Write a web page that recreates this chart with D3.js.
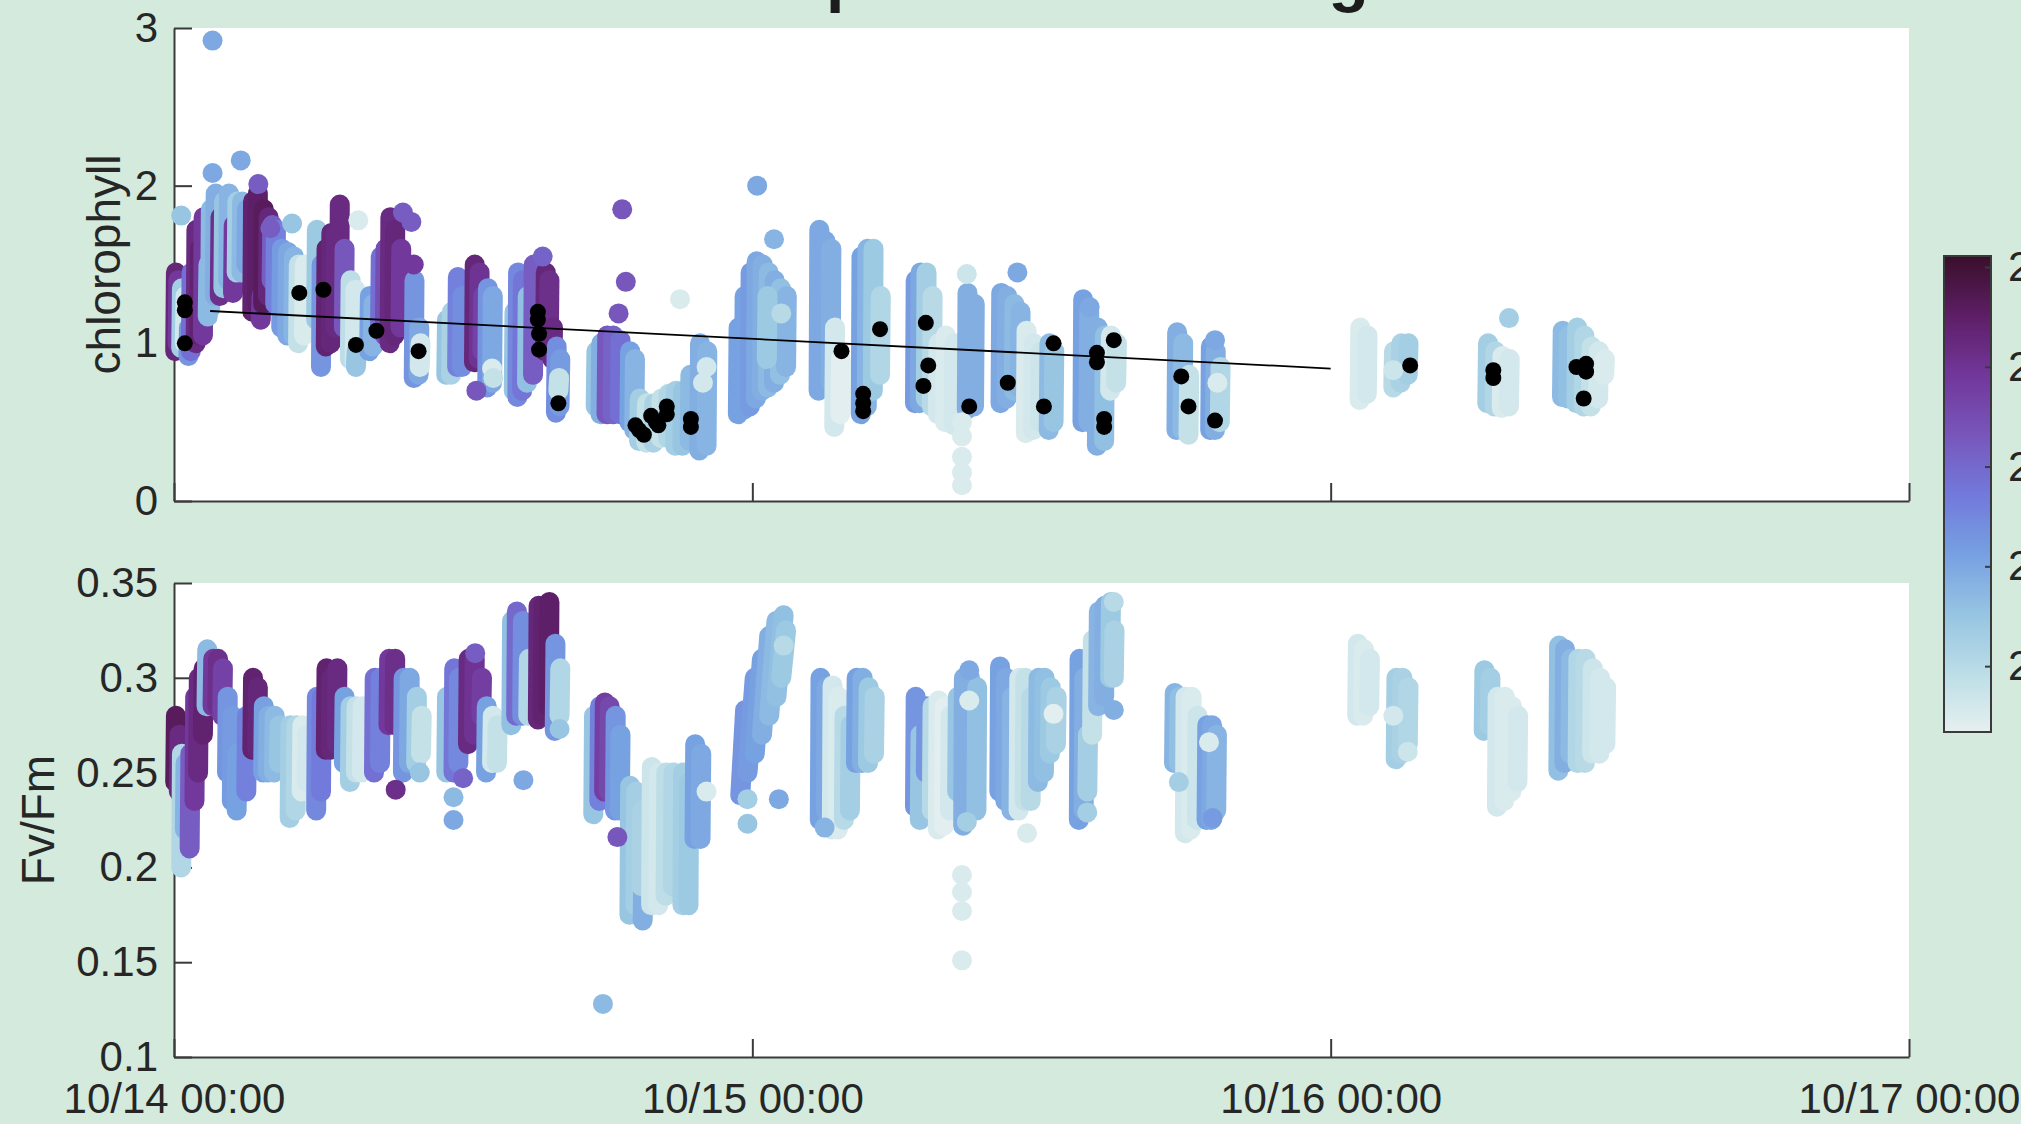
<!DOCTYPE html>
<html><head><meta charset="utf-8">
<script src="https://cdn.jsdelivr.net/npm/d3@7"></script>
<style>
body{margin:0;background:#d3eadd;}
svg{display:block;}
text{font-family:"Liberation Sans",Arial,Helvetica,sans-serif;}
</style>
</head><body>
<svg id="chart" width="2021" height="1124"></svg>
<script>
// ---------------- DATA ----------------
const startDate = new Date(2021, 9, 14, 0, 0);
const xTickHours = [0, 24, 48, 72];
const chlTicks = [0, 1, 2, 3];
const fvTicks = [0.1, 0.15, 0.2, 0.25, 0.3, 0.35];
const cbarTicks = [21, 22, 23, 24, 25];
const cbarRange = [20.34, 25.11];
const colorStops = ["#e6f0f0", "#bbdde6", "#95c4e2", "#76a0e2", "#7279db", "#7856bb", "#72379a", "#5d1e66", "#3a0f2a"];
const titleText = "Temperature coloring";
const chlLabel = "chlorophyll";
const fvLabel = "Fv/Fm";

// profile stacks: [hourStart, valueStart, hourEnd, valueEnd, temperature]
const chlCasts = [
 [0.05,0.95,0.08,1.45,24.3],[0.15,1.0,0.18,1.4,23.9],[0.3,0.97,0.33,1.35,21.3],[0.45,1.0,0.48,1.3,20.6],
 [0.6,0.92,0.62,1.1,22.3],[0.7,0.95,0.73,1.45,22.9],[0.9,1.0,0.93,1.72,24.2],[1.05,1.05,1.08,1.6,24.4],
 [1.2,1.05,1.23,1.8,23.9],[1.4,1.17,1.43,1.5,21.7],[1.5,1.22,1.53,1.85,21.7],[1.7,1.3,1.73,1.95,21.9],
 [1.9,1.3,1.93,1.8,24.1],[2.05,1.35,2.08,1.9,21.5],[2.25,1.4,2.28,1.95,21.8],[2.45,1.32,2.48,1.75,23.9],
 [2.6,1.45,2.63,1.9,21.3],[2.8,1.45,2.83,1.9,21.7],[3.0,1.5,3.03,1.85,22.0],
 [3.25,1.2,3.28,1.9,24.4],[3.45,1.25,3.48,1.95,24.5],[3.6,1.15,3.63,1.3,23.9],[3.7,1.25,3.73,1.85,24.6],
 [3.9,1.3,3.93,1.8,24.3],[4.05,1.4,4.08,1.75,23.2],[4.2,1.25,4.23,1.72,22.6],[4.45,1.1,4.48,1.6,22.2],
 [4.7,1.05,4.73,1.58,22.0],[4.95,1.05,4.98,1.55,21.8],[5.15,1.0,5.18,1.5,20.8],[5.4,1.05,5.43,1.5,20.5],
 [5.9,1.15,5.93,1.72,21.4],[6.1,0.85,6.13,1.5,22.3],[6.3,0.98,6.33,1.6,24.4],[6.5,1.0,6.53,1.7,24.3],
 [6.7,1.1,6.73,1.7,24.2],[6.85,1.2,6.88,1.88,24.2],[7.05,1.1,7.08,1.6,23.3],[7.3,0.9,7.33,1.4,20.9],
 [7.5,0.87,7.53,1.34,20.6],[7.55,0.85,7.58,0.95,21.5],[8.1,0.95,8.13,1.3,22.1],[8.25,0.98,8.28,1.25,21.8],
 [8.55,1.08,8.58,1.55,22.9],[8.75,1.05,8.78,1.6,23.5],[8.95,1.0,8.98,1.8,24.2],[9.15,1.05,9.18,1.72,24.3],[9.4,1.1,9.43,1.6,23.9],
 [9.95,0.78,9.98,1.4,22.3],[10.15,0.8,10.18,1.1,22.0],[10.2,0.85,10.23,1.0,20.6],
 [11.3,0.8,11.33,1.15,21.5],[11.5,0.8,11.53,1.2,21.2],[11.75,0.85,11.78,1.42,22.6],[11.95,0.85,11.98,1.3,22.4],
 [12.45,0.88,12.48,1.5,24.3],[12.65,0.9,12.68,1.45,24.0],[12.8,0.95,12.83,1.3,23.7],[13.0,0.72,13.03,1.35,22.3],[13.2,0.75,13.23,1.3,22.0],
 [14.1,0.7,14.13,1.2,21.5],[14.25,0.66,14.28,1.45,22.5],[14.45,0.7,14.48,1.4,22.8],[14.65,0.75,14.68,1.3,21.6],[14.9,0.8,14.93,1.5,23.2],
 [15.4,0.95,15.43,1.45,24.3],[15.55,0.95,15.58,1.4,24.1],[15.7,0.9,15.73,1.1,24.2],[15.85,0.56,15.88,0.98,22.4],
 [16.0,0.6,16.03,0.9,22.2],[15.95,0.7,15.98,0.78,20.8],
 [17.5,0.6,17.53,0.95,21.5],[17.7,0.55,17.73,1.0,21.9],[17.95,0.55,17.98,1.05,23.3],[18.2,0.55,18.23,1.05,23.1],
 [18.5,0.55,18.53,1.02,22.9],[18.9,0.5,18.93,0.95,22.1],[19.1,0.45,19.13,0.9,21.8],
 [19.3,0.38,19.33,0.65,21.3],[19.6,0.37,19.63,0.62,20.8],[19.9,0.37,19.93,0.62,21.2],[20.2,0.4,20.23,0.65,20.8],
 [20.5,0.4,20.53,0.68,21.1],[20.8,0.35,20.83,0.7,21.3],[21.1,0.35,21.13,0.7,21.5],[21.4,0.38,21.43,0.8,21.7],
 [21.8,0.32,21.83,1.0,21.9],[22.1,0.35,22.13,0.95,21.8],
 [23.4,0.55,23.43,1.1,22.1],[23.65,0.58,23.68,1.3,22.1],[23.9,0.6,23.93,1.45,22.2],[24.15,0.65,24.18,1.52,22.0],
 [24.4,0.7,24.43,1.5,21.9],[24.65,0.72,24.68,1.45,21.7],[24.9,0.75,24.93,1.4,21.9],[25.15,0.8,25.18,1.35,21.6],
 [25.4,0.85,25.43,1.3,21.8],[24.6,0.9,24.63,1.3,21.4],
 [26.75,0.7,26.78,1.72,22.0],[27.0,0.72,27.03,1.65,22.0],[27.25,0.75,27.28,1.6,21.9],[27.4,0.47,27.43,1.1,20.6],[27.65,0.55,27.68,0.9,20.4],
 [28.5,0.55,28.53,1.55,22.1],[28.75,0.6,28.78,1.6,21.8],[29.0,0.7,29.03,1.6,21.4],[29.3,0.8,29.33,1.3,21.1],
 [30.75,0.62,30.78,1.4,22.2],[30.95,0.62,30.98,1.45,22.0],[31.2,0.65,31.23,1.45,21.3],[31.45,0.6,31.48,1.3,21.0],[31.7,0.55,31.73,1.0,20.6],
 [32.0,0.5,32.03,1.05,20.5],[32.35,0.48,32.38,1.0,20.6],[32.9,0.58,32.93,1.32,21.9],[33.2,0.6,33.23,1.25,21.9],
 [34.3,0.62,34.33,1.32,22.0],[34.55,0.65,34.58,1.3,21.9],[34.85,0.7,34.88,1.25,21.7],[35.1,0.72,35.13,1.2,21.8],
 [35.35,0.43,35.38,1.08,20.5],[35.65,0.45,35.68,1.0,20.6],[35.95,0.5,35.98,0.95,20.7],[36.3,0.45,36.33,1.0,21.7],[36.5,0.5,36.53,0.95,21.5],
 [37.7,0.5,37.73,1.28,22.1],[37.95,0.5,37.98,1.2,21.9],[38.3,0.35,38.33,1.1,21.9],[38.6,0.38,38.63,1.05,21.6],
 [38.85,0.7,38.88,1.05,20.6],[39.1,0.75,39.13,1.0,20.8],
 [41.6,0.45,41.63,1.07,21.9],[41.85,0.45,41.88,1.0,21.7],[42.1,0.42,42.13,0.8,20.8],
 [43.0,0.45,43.03,0.98,22.1],[43.2,0.45,43.23,0.95,21.9],[43.4,0.5,43.43,0.85,21.1],
 [49.2,0.64,49.23,1.1,20.5],[49.5,0.68,49.53,1.05,20.6],
 [50.6,0.72,50.63,0.95,21.0],[50.9,0.75,50.93,1.0,21.2],[51.2,0.8,51.23,1.0,21.3],
 [54.5,0.62,54.53,1.0,21.3],[54.8,0.6,54.83,0.95,21.1],[55.1,0.59,55.13,0.92,20.5],[55.4,0.6,55.43,0.9,20.6],
 [57.6,0.66,57.63,1.08,21.7],[57.85,0.65,57.88,1.05,21.6],[58.2,0.62,58.23,1.1,21.3],[58.5,0.6,58.53,1.05,21.1],
 [58.8,0.6,58.83,0.98,20.8],[59.1,0.65,59.13,0.95,20.6],[59.35,0.8,59.38,0.9,20.5]
];
// single points: [hour, value, temperature]
const chlDots = [
 [0.3,1.81,21.5],[1.6,2.92,22.0],[1.6,2.08,22.0],[2.77,2.16,22.0],[3.5,2.01,23.2],[4.0,1.73,23.2],[4.9,1.76,21.5],
 [7.65,1.78,20.5],[9.5,1.83,23.2],[9.85,1.77,23.2],[9.95,1.5,23.9],[13.2,0.84,20.5],[13.25,0.78,20.8],[12.55,0.7,23.3],
 [15.3,1.55,23.1],[18.6,1.85,23.3],[18.75,1.39,23.3],[18.45,1.19,23.3],
 [22.1,0.85,20.6],[21.95,0.75,20.6],[21.0,1.28,20.5],
 [25.2,1.19,21.0],[24.2,2.0,22.0],[24.9,1.66,21.8],[32.9,1.44,20.7],
 [32.7,0.5,20.5],[32.7,0.41,20.5],[32.7,0.28,20.5],[32.7,0.18,20.5],[32.7,0.1,20.5],
 [35.0,1.45,22.0],[38.0,1.23,22.0],[43.2,1.02,22.0],[43.3,0.75,20.5],[50.6,0.83,20.7],[55.4,1.16,21.3]
];
const chlBlackT = [0.45,0.45,0.45,5.2,6.2,7.55,8.4,10.15,15.1,15.1,15.15,15.15,15.95,
 19.15,19.3,19.5,19.8,20.0,20.1,20.45,20.45,21.45,21.45,
 27.7,28.6,28.6,28.6,29.3,31.2,31.3,31.1,33.0,34.6,36.1,36.5,38.3,38.3,38.6,38.6,39.0,41.8,42.1,43.2,
 51.3,54.75,54.75,58.2,58.6,58.6,58.5];
const chlBlackV = [1.26,1.21,1.0,1.32,1.34,0.99,1.08,0.95,1.2,1.15,1.06,0.96,0.62,
 0.48,0.45,0.42,0.54,0.5,0.48,0.6,0.55,0.52,0.47,
 0.95,0.68,0.62,0.57,1.09,1.13,0.86,0.73,0.6,0.75,0.6,1.0,0.94,0.88,0.52,0.47,1.02,0.79,0.6,0.51,
 0.86,0.83,0.78,0.85,0.87,0.82,0.65];
const trendT = [1.5, 48];
const trendV = [1.205, 0.84];

const fvCasts = [
 [0.05,0.245,0.08,0.28,24.6],[0.2,0.24,0.23,0.27,24.2],[0.3,0.2,0.33,0.26,21.1],[0.45,0.22,0.48,0.255,21.8],
 [0.65,0.21,0.68,0.26,23.2],[0.85,0.235,0.88,0.29,23.9],[1.0,0.25,1.03,0.3,24.2],[1.2,0.27,1.23,0.305,24.4],
 [1.35,0.285,1.38,0.315,21.7],[1.6,0.285,1.63,0.31,23.9],[1.8,0.285,1.83,0.31,24.1],[2.0,0.28,2.03,0.305,23.7],
 [2.2,0.25,2.23,0.29,22.3],[2.4,0.235,2.43,0.28,22.2],[2.6,0.23,2.63,0.26,22.1],
 [3.0,0.24,3.03,0.28,22.6],[3.25,0.262,3.28,0.3,24.4],[3.45,0.262,3.48,0.295,24.3],[3.7,0.25,3.73,0.285,22.1],
 [3.9,0.25,3.93,0.28,21.9],[4.15,0.25,4.18,0.28,21.7],[4.35,0.255,4.38,0.275,21.5],
 [4.8,0.226,4.83,0.275,21.3],[5.05,0.23,5.08,0.275,21.1],[5.3,0.24,5.33,0.275,20.5],[5.5,0.245,5.53,0.27,20.6],
 [5.9,0.23,5.93,0.29,22.5],[6.1,0.24,6.13,0.29,22.7],[6.3,0.262,6.33,0.305,24.4],[6.5,0.262,6.53,0.3,24.3],
 [6.75,0.265,6.78,0.305,24.2],[7.05,0.255,7.08,0.29,22.1],
 [7.3,0.245,7.33,0.285,21.3],[7.55,0.25,7.58,0.285,20.8],[7.8,0.25,7.83,0.285,20.6],
 [8.3,0.25,8.33,0.3,22.9],[8.55,0.255,8.58,0.3,22.6],[8.9,0.275,8.93,0.31,23.9],[9.15,0.275,9.18,0.31,24.1],
 [9.5,0.25,9.53,0.3,22.3],[9.75,0.255,9.78,0.3,22.0],[10.05,0.255,10.08,0.29,21.3],[10.25,0.26,10.28,0.28,20.8],
 [11.3,0.25,11.33,0.29,21.5],[11.6,0.25,11.63,0.305,22.8],[11.8,0.255,11.83,0.3,22.5],[12.2,0.265,12.23,0.31,24.2],
 [12.45,0.27,12.48,0.31,24.0],[12.75,0.28,12.78,0.3,23.8],[12.95,0.25,12.98,0.285,22.1],[13.2,0.255,13.23,0.28,20.6],[13.4,0.255,13.43,0.275,20.8],
 [14.0,0.275,14.03,0.33,21.6],[14.2,0.28,14.23,0.335,23.0],[14.45,0.28,14.48,0.33,22.4],[14.7,0.28,14.73,0.31,21.1],
 [15.1,0.278,15.13,0.338,24.3],[15.3,0.28,15.33,0.338,24.4],[15.55,0.285,15.58,0.34,24.5],[15.8,0.272,15.83,0.318,22.3],[16.0,0.28,16.03,0.305,21.1],
 [17.4,0.228,17.43,0.28,21.5],[17.65,0.235,17.68,0.285,22.6],[17.85,0.24,17.88,0.287,23.8],[18.05,0.24,18.08,0.285,23.6],
 [18.3,0.23,18.33,0.28,22.3],[18.5,0.23,18.53,0.27,22.1],
 [18.9,0.175,18.93,0.243,21.5],[19.15,0.18,19.18,0.24,21.3],[19.45,0.172,19.48,0.2,21.9],[19.4,0.19,19.43,0.23,21.2],
 [19.8,0.18,19.83,0.253,20.7],[20.1,0.18,20.13,0.25,20.6],[20.4,0.185,20.43,0.25,20.9],[20.7,0.19,20.73,0.25,21.1],
 [21.1,0.18,21.13,0.25,21.3],[21.35,0.18,21.38,0.245,21.4],[21.6,0.215,21.63,0.265,22.1],[21.85,0.215,21.88,0.26,22.0],
 [23.5,0.238,23.7,0.283,22.3],[23.8,0.25,24.1,0.3,22.2],[24.1,0.26,24.4,0.31,22.1],[24.4,0.27,24.7,0.322,21.9],
 [24.7,0.28,25.0,0.33,21.7],[25.0,0.29,25.3,0.333,21.6],[25.2,0.3,25.4,0.325,21.4],
 [26.8,0.225,26.83,0.3,22.1],[27.05,0.23,27.08,0.295,22.0],[27.3,0.22,27.33,0.296,20.6],[27.55,0.22,27.58,0.29,20.5],
 [27.8,0.225,27.83,0.28,21.0],[28.05,0.23,28.08,0.275,21.3],[28.3,0.255,28.33,0.3,22.1],[28.55,0.255,28.58,0.3,21.9],
 [28.8,0.255,28.83,0.295,21.4],[29.05,0.26,29.08,0.29,21.2],
 [30.75,0.232,30.78,0.29,22.3],[30.95,0.225,30.98,0.27,21.5],[31.2,0.25,31.23,0.285,22.3],[31.45,0.23,31.48,0.285,21.0],
 [31.7,0.22,31.73,0.288,20.5],[31.95,0.222,31.98,0.285,20.4],[32.2,0.23,32.23,0.28,20.6],[32.5,0.24,32.53,0.29,21.5],
 [32.75,0.222,32.78,0.3,21.9],[33.0,0.23,33.03,0.3,21.9],[33.3,0.23,33.33,0.295,21.6],
 [34.25,0.24,34.28,0.306,22.1],[34.5,0.235,34.53,0.3,22.0],[34.75,0.23,34.78,0.29,21.8],[35.05,0.23,35.08,0.3,20.6],
 [35.3,0.235,35.33,0.3,20.8],[35.55,0.235,35.58,0.29,21.0],[35.85,0.245,35.88,0.3,21.7],[36.1,0.25,36.13,0.3,21.6],
 [36.35,0.26,36.38,0.295,21.4],[36.6,0.265,36.63,0.29,21.2],
 [37.55,0.225,37.58,0.31,22.1],[37.75,0.23,37.78,0.3,21.9],[37.9,0.24,37.93,0.27,21.3],[38.1,0.27,38.13,0.32,20.8],
 [38.35,0.285,38.38,0.335,21.8],[38.6,0.29,38.63,0.338,21.9],[38.85,0.3,38.88,0.34,21.4],[39.0,0.3,39.03,0.325,21.2],
 [41.5,0.255,41.53,0.292,21.8],[41.7,0.255,41.73,0.29,21.6],[41.95,0.218,41.98,0.29,20.6],[42.2,0.22,42.23,0.29,20.5],
 [42.45,0.225,42.48,0.28,20.7],[42.85,0.225,42.88,0.275,22.1],[43.05,0.225,43.08,0.275,22.0],[43.25,0.23,43.28,0.27,21.8],
 [49.1,0.28,49.13,0.318,20.6],[49.35,0.28,49.38,0.315,20.5],[49.6,0.285,49.63,0.31,20.6],
 [50.7,0.257,50.73,0.3,21.3],[50.95,0.26,50.98,0.3,21.2],[51.2,0.265,51.23,0.295,21.1],
 [54.35,0.272,54.38,0.304,21.4],[54.6,0.275,54.63,0.3,21.3],[54.9,0.232,54.93,0.29,20.6],[55.2,0.235,55.23,0.29,20.5],
 [55.5,0.24,55.53,0.285,20.5],[55.75,0.245,55.78,0.28,20.6],
 [57.45,0.251,57.48,0.317,21.6],[57.7,0.255,57.73,0.315,21.9],[57.95,0.26,57.98,0.31,21.7],[58.25,0.255,58.28,0.31,21.1],
 [58.55,0.255,58.58,0.31,21.0],[58.85,0.26,58.88,0.305,20.7],[59.15,0.26,59.18,0.3,20.6],[59.4,0.265,59.43,0.295,20.6]
];
const fvDots = [
 [9.2,0.241,24.1],[10.2,0.25,21.5],[11.6,0.237,21.7],[11.6,0.225,22.0],[12.0,0.247,23.1],[12.5,0.313,23.2],
 [14.5,0.246,22.0],[16.0,0.273,21.5],[18.4,0.216,23.3],[17.8,0.128,21.7],[22.1,0.24,20.5],
 [23.8,0.236,21.3],[23.8,0.223,21.5],[25.3,0.317,21.0],[25.1,0.236,22.0],[27.0,0.221,21.8],
 [33.0,0.304,22.0],[33.0,0.288,20.5],[32.9,0.224,21.3],
 [32.7,0.196,20.5],[32.7,0.187,20.5],[32.7,0.177,20.5],[32.7,0.151,20.5],
 [35.4,0.218,20.5],[36.5,0.281,20.4],[37.9,0.229,21.3],[39.0,0.34,21.0],[39.0,0.283,21.9],
 [41.7,0.245,21.3],[42.95,0.266,20.5],[43.1,0.226,22.2],[50.6,0.28,20.6],[51.2,0.261,20.7]
];

// ---------------- LAYOUT ----------------
const W = 2021, H = 1124;
const left = 174, right = 1909;
const topPanel = {y0: 28, y1: 501};
const botPanel = {y0: 583, y1: 1057};
const axisColor = "#3a3a3a", textColor = "#262626";
const dotD = 20, blackR = 8;

const svg = d3.select("#chart");
svg.append("rect").attr("width", W).attr("height", H).attr("fill", "#d3eadd");

const toDate = h => new Date(startDate.getTime() + h * 3600e3);
const x = d3.scaleTime().domain([toDate(0), toDate(72)]).range([left, right]);
const yChl = d3.scaleLinear().domain([0, 3]).range([topPanel.y1, topPanel.y0]);
const yFv = d3.scaleLinear().domain([0.1, 0.35]).range([botPanel.y1, botPanel.y0]);
const color = d3.scaleSequential(d3.piecewise(d3.interpolateRgb, colorStops)).domain(cbarRange);

function panel(p, y, ticks, fmt, showX) {
  const g = svg.append("g");
  g.append("rect").attr("x", left).attr("y", p.y0).attr("width", right - left).attr("height", p.y1 - p.y0).attr("fill", "#fff");
  const ya = g.append("g").attr("transform", `translate(${left},0)`)
    .call(d3.axisLeft(y).tickValues(ticks).tickFormat(fmt).tickSizeInner(-18).tickSizeOuter(0).tickPadding(16));
  const xa = g.append("g").attr("transform", `translate(0,${p.y1})`)
    .call(d3.axisBottom(x).tickValues(xTickHours.map(toDate)).tickFormat(showX ? d3.timeFormat("%m/%d %H:%M") : () => "")
      .tickSizeInner(-18).tickSizeOuter(0).tickPadding(26));
  [ya, xa].forEach(a => {
    a.selectAll("path.domain").attr("stroke", axisColor).attr("stroke-width", 2);
    a.selectAll(".tick line").attr("stroke", axisColor).attr("stroke-width", 2);
    a.selectAll("text").attr("fill", textColor).attr("font-size", 42).attr("font-family", '"Liberation Sans",Arial,sans-serif');
  });
  return g;
}

const gTop = panel(topPanel, yChl, chlTicks, d => String(d), false);
const gBot = panel(botPanel, yFv, fvTicks, d => String(+d.toFixed(2)), true);

function drawCasts(g, casts, dots, y) {
  const d = g.append("g");
  d.selectAll("line.cast").data(casts).join("line").attr("class", "cast")
    .attr("x1", c => x(toDate(c[0]))).attr("y1", c => y(c[1]))
    .attr("x2", c => x(toDate(c[2]))).attr("y2", c => y(c[3]))
    .attr("stroke", c => color(c[4])).attr("stroke-width", dotD).attr("stroke-linecap", "round");
  d.selectAll("circle.dot").data(dots).join("circle").attr("class", "dot")
    .attr("cx", c => x(toDate(c[0]))).attr("cy", c => y(c[1])).attr("r", dotD / 2)
    .attr("fill", c => color(c[2]));
}
drawCasts(gTop, chlCasts, chlDots, yChl);
drawCasts(gBot, fvCasts, fvDots, yFv);

// trend line
const trend = trendT.map((t, i) => [t, trendV[i]]);
gTop.append("path").datum(trend)
  .attr("d", d3.line().x(d => x(toDate(d[0]))).y(d => yChl(d[1])))
  .attr("fill", "none").attr("stroke", "#000").attr("stroke-width", 1.8);
// black points
gTop.append("g").selectAll("circle").data(chlBlackT.map((t, i) => [t, chlBlackV[i]])).join("circle")
  .attr("cx", d => x(toDate(d[0]))).attr("cy", d => yChl(d[1])).attr("r", blackR).attr("fill", "#000");

// axis labels
svg.append("text").attr("transform", `translate(120,${(topPanel.y0 + topPanel.y1) / 2}) rotate(-90)`)
  .attr("text-anchor", "middle").attr("font-size", 46).attr("fill", textColor).text(chlLabel);
svg.append("text").attr("transform", `translate(54,${(botPanel.y0 + botPanel.y1) / 2}) rotate(-90)`)
  .attr("text-anchor", "middle").attr("font-size", 46).attr("fill", textColor).text(fvLabel);

// title (cropped at top edge)
svg.append("text").attr("x", 1032).attr("y", -1).attr("text-anchor", "middle")
  .attr("font-size", 66).attr("font-weight", "bold").attr("fill", "#1c1c1c").text(titleText);

// colorbar
const cb = {x: 1944, y0: 256, y1: 732, w: 47};
const defs = svg.append("defs");
const grad = defs.append("linearGradient").attr("id", "cbg").attr("x1", 0).attr("y1", 1).attr("x2", 0).attr("y2", 0);
d3.range(0, 1.0001, 0.02).forEach(f => {
  grad.append("stop").attr("offset", f).attr("stop-color", color(cbarRange[0] + f * (cbarRange[1] - cbarRange[0])));
});
svg.append("rect").attr("x", cb.x).attr("y", cb.y0).attr("width", cb.w).attr("height", cb.y1 - cb.y0)
  .attr("fill", "url(#cbg)").attr("stroke", axisColor).attr("stroke-width", 2);
const cScale = d3.scaleLinear().domain(cbarRange).range([cb.y1, cb.y0]);
const ca = svg.append("g").attr("transform", `translate(${cb.x + cb.w},0)`)
  .call(d3.axisRight(cScale).tickValues(cbarTicks).tickSizeInner(-6).tickSizeOuter(0).tickPadding(17));
ca.select("path.domain").remove();
ca.selectAll(".tick line").attr("stroke", axisColor).attr("stroke-width", 2);
ca.selectAll("text").attr("fill", textColor).attr("font-size", 42).attr("font-family", '"Liberation Sans",Arial,sans-serif');
</script>
</body></html>
